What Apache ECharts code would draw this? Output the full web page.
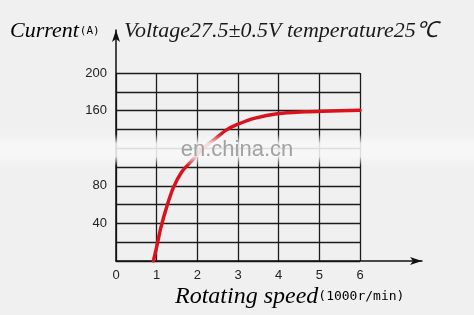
<!DOCTYPE html>
<html><head><meta charset="utf-8">
<script src="https://cdn.jsdelivr.net/npm/echarts@6/dist/echarts.min.js"></script>
<style>html,body{margin:0;padding:0;background:#f0f0f0}#c{width:474px;height:315px}</style>
</head><body><div id="c"></div>
<script>
const speedValues = [0.92, 1.0, 1.1, 1.25, 1.41, 1.62, 1.89, 2.15, 2.44, 2.7, 2.97, 3.42, 4.0, 4.65, 5.06, 6.0];
const currentValues = [0, 15, 35, 58, 78, 95, 108, 120, 130, 139, 145, 152, 156.8, 158.7, 159.4, 160.4];
const xTickLabels = ['0', '1', '2', '3', '4', '5', '6'];
const yTickLabels = [40, 80, 160, 200];
const titleLeft = 'Current';
const titleLeftUnit = '(A)';
const titleRight = 'Voltage27.5\u00b10.5V temperature25\u2103';
const xName = 'Rotating speed';
const xUnit = '(1000r/min)';
const watermark = 'en.china.cn';

const chart = echarts.init(document.getElementById('c'), null, {renderer: 'canvas'});
const gridLine = {color: '#1c1c1c', width: 1.3};
const serifItalic = {fontFamily: 'Liberation Serif', fontStyle: 'italic', fontSize: 22, color: '#1a1a1a'};

chart.setOption({
  backgroundColor: '#f0f0f0',
  animation: false,
  grid: [
    {left: 116, right: 114, top: 73, bottom: 54},
    {left: 116, right: 52, top: 30, bottom: 54}
  ],
  xAxis: [
    {type: 'value', gridIndex: 0, min: 0, max: 6, interval: 1,
     axisLine: {show: false}, axisTick: {show: false},
     axisLabel: {color: '#222', fontSize: 13, fontFamily: 'Liberation Sans', margin: 8,
       formatter: v => xTickLabels[Math.round(v)] ?? ''},
     splitLine: {show: true, lineStyle: gridLine}},
    {type: 'value', gridIndex: 1, min: 0, max: 1,
     axisLine: {show: true, symbol: ['none', 'arrow'], symbolSize: [6, 12], lineStyle: {color: '#111', width: 1.5}},
     axisTick: {show: false}, axisLabel: {show: false}, splitLine: {show: false}}
  ],
  yAxis: [
    {type: 'value', gridIndex: 0, min: 0, max: 200, interval: 20,
     axisLine: {show: false}, axisTick: {show: false},
     axisLabel: {color: '#222', fontSize: 13, fontFamily: 'Liberation Sans', margin: 9,
       formatter: v => yTickLabels.includes(v) ? String(v) : ''},
     splitLine: {show: true, lineStyle: gridLine}},
    {type: 'value', gridIndex: 1, min: 0, max: 1,
     axisLine: {show: true, symbol: ['none', 'arrow'], symbolSize: [6, 12], lineStyle: {color: '#111', width: 1.5}},
     axisTick: {show: false}, axisLabel: {show: false}, splitLine: {show: false}}
  ],
  series: [{
    type: 'line', xAxisIndex: 0, yAxisIndex: 0,
    data: speedValues.map((s, i) => [s, currentValues[i]]),
    smooth: 0.25, showSymbol: false, z: 5,
    lineStyle: {color: '#d8131d', width: 3.5, cap: 'round'}
  }],
  graphic: [
    {type: 'rect', left: 0, top: 134, z: 100, silent: true,
     shape: {width: 474, height: 32},
     style: {fill: new echarts.graphic.LinearGradient(0, 0, 0, 1, [
       {offset: 0, color: 'rgba(248,248,248,0)'},
       {offset: 0.3, color: 'rgba(248,248,248,0.88)'},
       {offset: 0.7, color: 'rgba(248,248,248,0.88)'},
       {offset: 1, color: 'rgba(248,248,248,0)'}])}},
    {type: 'text', x: 237, y: 150, z: 101, silent: true,
     style: {text: watermark, font: '22px "Liberation Sans"', fill: '#a2a2a2', align: 'center', verticalAlign: 'middle'}},
    {type: 'text', x: 10, y: 31, z: 101,
     style: {text: '{a|' + titleLeft + '}{b|' + titleLeftUnit + '}', verticalAlign: 'middle',
       rich: {a: serifItalic, b: {fontFamily: 'DejaVu Sans Mono', fontSize: 11, color: '#1a1a1a', padding: [0, 0, 0, 1]}}}},
    {type: 'text', x: 124, y: 31, z: 101,
     style: {text: titleRight, verticalAlign: 'middle', font: 'italic 22px "Liberation Serif"', fill: '#1a1a1a'}},
    {type: 'text', x: 175, y: 297, z: 101,
     style: {text: '{a|' + xName + '}{b|' + xUnit + '}', verticalAlign: 'middle',
       rich: {a: Object.assign({}, serifItalic, {fontSize: 24}), b: {fontFamily: 'DejaVu Sans Mono', fontSize: 13, color: '#1a1a1a'}}}}
  ]
});
</script></body></html>
